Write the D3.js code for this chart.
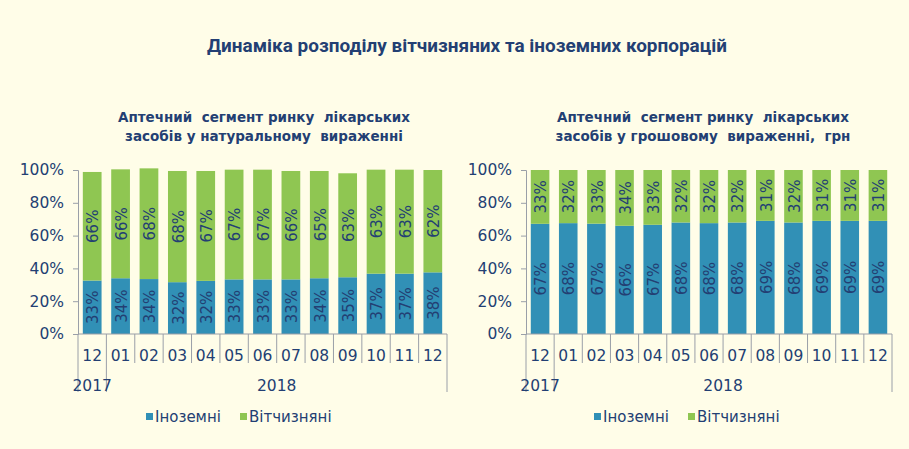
<!DOCTYPE html>
<html>
<head>
<meta charset="utf-8">
<script src="https://cdn.jsdelivr.net/npm/d3@7"></script>
<style>
  body { margin: 0; background: #FFFDE8; }
  svg text { white-space: pre; }
</style>
</head>
<body>
<script>
// months along the x axis, grouped by year
const months = ["12", "01", "02", "03", "04", "05", "06", "07", "08", "09", "10", "11", "12"];
const yearLabels = ["2017", "2018"];
const yearCounts = [1, 12];
const yTicks = [0, 20, 40, 60, 80, 100];
const seriesNames = ["Іноземні", "Вітчизняні"];

// left chart: in units (shares, %)
const unitsForeign  = [32.6, 34.0, 33.5, 31.6, 32.4, 33.3, 33.3, 33.3, 34.0, 34.6, 36.8, 36.8, 37.6];
const unitsDomestic = [66.2, 66.4, 67.5, 67.8, 67.0, 66.9, 66.9, 66.1, 65.4, 63.4, 63.4, 63.4, 62.4];

// right chart: in money (shares, %)
const moneyForeign  = [67.2, 67.6, 67.3, 66.0, 66.6, 68.0, 67.6, 68.0, 69.0, 68.0, 69.0, 69.0, 69.0];
const moneyDomestic = [32.8, 32.4, 32.7, 34.0, 33.4, 32.0, 32.4, 32.0, 31.0, 32.0, 31.0, 31.0, 31.0];

const blue = "#3190B6";
const green = "#8FC652";
const textColor = "#233F73";
const axisColor = "#9A9FA8";
const font = "DejaVu Sans, Verdana, sans-serif";

const width = 909;
const height = 449;

const svg = d3.select("body").append("svg")
    .attr("width", width)
    .attr("height", height);

svg.append("text")
    .attr("x", 467)
    .attr("y", 52)
    .attr("text-anchor", "middle")
    .attr("textLength", 520)
    .attr("lengthAdjust", "spacingAndGlyphs")
    .style("font-family", "Liberation Sans Narrow, Roboto, sans-serif")
    .style("font-size", "19px")
    .style("font-weight", "bold")
    .style("fill", textColor)
    .text("Динаміка розподілу вітчизняних та іноземних корпорацій");

function drawChart(left, right, titleLines, titleX, foreign, domestic) {
    const top = 170;
    const bottom = 334;
    const g = svg.append("g");

    titleLines.forEach((t, i) => {
        g.append("text")
            .attr("x", titleX)
            .attr("y", 122 + i * 19)
            .attr("text-anchor", "middle")
            .style("font-family", font)
            .style("font-size", "13.5px")
            .style("font-weight", "bold")
            .style("fill", textColor)
            .text(t);
    });

    const x = d3.scaleBand()
        .domain(d3.range(months.length))
        .range([left, right])
        .paddingInner(0.34)
        .paddingOuter(0.17);
    const y = d3.scaleLinear().domain([0, 100]).range([bottom, top]);

    // y axis
    const yAxis = d3.axisLeft(y)
        .tickValues(yTicks)
        .tickSize(5)
        .tickPadding(9)
        .tickFormat(d => d + "%");
    const ya = g.append("g").attr("transform", `translate(${left},0)`).call(yAxis);
    ya.select(".domain").attr("stroke", axisColor);
    ya.selectAll(".tick line").attr("stroke", axisColor);
    ya.selectAll(".tick text")
        .style("font-family", font)
        .style("font-size", "15.5px")
        .style("fill", textColor);

    // stacked bars
    const rows = months.map((m, i) => ({ i: i, f: foreign[i], d: domestic[i] }));

    const bars = g.selectAll(".bar").data(rows).enter().append("g");
    bars.append("rect")
        .attr("x", d => x(d.i))
        .attr("width", x.bandwidth())
        .attr("y", d => y(d.f))
        .attr("height", d => y(0) - y(d.f))
        .attr("fill", blue);
    bars.append("rect")
        .attr("x", d => x(d.i))
        .attr("width", x.bandwidth())
        .attr("y", d => y(d.f + d.d))
        .attr("height", d => y(d.f) - y(d.f + d.d))
        .attr("fill", green);

    const label = (val, base) => bars.append("text")
        .attr("transform", d => `translate(${x(d.i) + x.bandwidth() / 2 + 1},${y(base(d) + val(d) / 2)}) rotate(-90)`)
        .attr("text-anchor", "middle")
        .attr("dy", "0.35em")
        .style("font-family", font)
        .style("font-size", "15px")
        .style("fill", textColor)
        .text(d => Math.round(val(d)) + "%");
    label(d => d.f, d => 0);
    label(d => d.d, d => d.f);

    // x axis line and category separators
    g.append("line")
        .attr("x1", left).attr("x2", right)
        .attr("y1", bottom).attr("y2", bottom)
        .attr("stroke", axisColor);

    const step = x.step();
    const groupEdges = [0];
    yearCounts.forEach(c => groupEdges.push(groupEdges[groupEdges.length - 1] + c));
    d3.range(months.length + 1).forEach(k => {
        const isGroup = groupEdges.includes(k);
        g.append("line")
            .attr("x1", left + k * step).attr("x2", left + k * step)
            .attr("y1", bottom).attr("y2", isGroup ? 392 : 363)
            .attr("stroke", axisColor);
    });

    g.selectAll(".month").data(months).enter().append("text")
        .attr("x", (d, i) => x(i) + x.bandwidth() / 2)
        .attr("y", 361)
        .attr("text-anchor", "middle")
        .style("font-family", font)
        .style("font-size", "15.5px")
        .style("fill", textColor)
        .text(d => d);

    yearLabels.forEach((yl, k) => {
        const cx = left + (groupEdges[k] + groupEdges[k + 1]) / 2 * step;
        g.append("text")
            .attr("x", cx)
            .attr("y", 391)
            .attr("text-anchor", "middle")
            .style("font-family", font)
            .style("font-size", "15.5px")
            .style("fill", textColor)
            .text(yl);
    });

    // legend
    const lx = left + 68;
    const offsets = [0, 94];
    [blue, green].forEach((c, k) => {
        g.append("rect")
            .attr("x", lx + offsets[k])
            .attr("y", 413)
            .attr("width", 7)
            .attr("height", 7)
            .attr("fill", c);
        g.append("text")
            .attr("x", lx + offsets[k] + 9)
            .attr("y", 422)
            .style("font-family", font)
            .style("font-size", "15px")
            .style("fill", textColor)
            .text(seriesNames[k]);
    });
}

drawChart(78, 447,
    ["Аптечний  сегмент ринку  лікарських", "засобів у натуральному  вираженні"],
    264, unitsForeign, unitsDomestic);

drawChart(526, 892,
    ["Аптечний  сегмент ринку  лікарських", "засобів у грошовому  вираженні,  грн"],
    703, moneyForeign, moneyDomestic);
</script>
</body>
</html>
